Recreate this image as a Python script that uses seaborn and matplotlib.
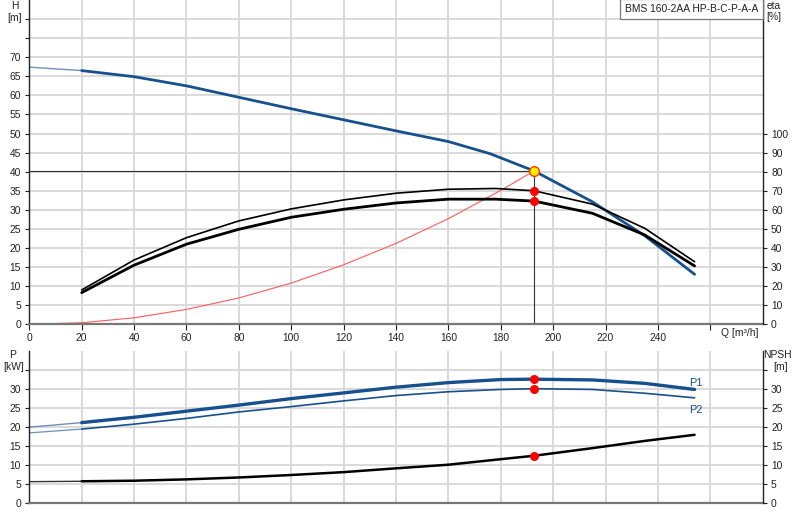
import matplotlib
matplotlib.use("Agg")
import matplotlib.pyplot as plt
import pandas as pd
import seaborn as sns

# ---------------- data ----------------
# Q-H pump curve
q_h = [0, 20, 40, 60, 80, 100, 120, 140, 160, 176, 192.7, 215, 235, 254]
h_vals = [67.4, 66.5, 64.9, 62.5, 59.5, 56.5, 53.6, 50.7, 47.9, 44.7, 40.2, 32.1, 23.2, 13.1]

# efficiency curves [%]
q_eta = [20, 40, 60, 80, 100, 120, 140, 160, 178, 192.7, 215, 235, 254]
eta_pump = [18.0, 33.7, 45.4, 54.2, 60.5, 65.2, 68.7, 70.8, 71.2, 70.0, 63.0, 50.3, 32.8]
eta_total = [16.6, 31.0, 42.0, 49.8, 56.1, 60.3, 63.6, 65.6, 65.6, 64.6, 58.2, 46.8, 30.6]

# system curve
q_sys = [0, 20, 40, 60, 80, 100, 120, 140, 160, 180, 192.7]
h_sys = [0, 0.4, 1.7, 3.9, 6.9, 10.8, 15.6, 21.2, 27.7, 35.1, 40.2]

# power / NPSH curves
q_p = [0, 20, 40, 60, 80, 100, 120, 140, 160, 180, 192.7, 215, 235, 254]
p1_vals = [19.9, 21.1, 22.5, 24.1, 25.7, 27.4, 28.9, 30.4, 31.6, 32.4, 32.5, 32.3, 31.4, 29.8]
p2_vals = [18.4, 19.4, 20.7, 22.2, 23.9, 25.3, 26.8, 28.2, 29.2, 29.8, 30.0, 29.8, 28.8, 27.6]
npsh_vals = [5.6, 5.7, 5.85, 6.2, 6.7, 7.35, 8.1, 9.1, 10.05, 11.5, 12.4, 14.4, 16.3, 17.9]

# duty point
duty_q = 192.7
duty_h = 40.2
duty_eta = [70.0, 64.6]
duty_p = [32.5, 30.0, 12.4]

q_ticks = [0, 20, 40, 60, 80, 100, 120, 140, 160, 180, 200, 220, 240, 260]
q_ticklabels = ["0", "20", "40", "60", "80", "100", "120", "140", "160", "180", "200", "220", "240", ""]
h_ticks = list(range(0, 85, 5))
h_ticklabels = [str(v) for v in range(0, 75, 5)] + ["", ""]
eta_ticks = list(range(0, 110, 10))
p_ticks = list(range(0, 40, 5))
p_ticklabels = [str(v) for v in range(0, 35, 5)] + [""]
model_name = "BMS 160-2AA HP-B-C-P-A-A"

# ---------------- style ----------------
sns.set_theme(style="white")
plt.rcParams['font.family'] = ['Liberation Sans', 'DejaVu Sans']
FS = 7.4
BLUE = "#17508e"
GRID = "#d9d9d9"

fig = plt.figure(figsize=(8, 5.2), dpi=100)
L, W = 29.3 / 800, (762.7 - 29.3) / 800
ax1 = fig.add_axes([L, (520 - 324.3) / 520, W, 324.3 / 520])
ax1r = ax1.twinx()
ax2 = fig.add_axes([L, (520 - 503) / 520, W, (503 - 350.6) / 520])
ax2r = ax2.twinx()

def style(ax, axr, yticks, ylabels, rticks, rlabels, ylim, rlim):
    ax.set_xlim(0, 280)
    ax.set_ylim(*ylim)
    axr.set_ylim(*rlim)
    ax.set_xticks(q_ticks)
    ax.set_yticks(yticks)
    ax.set_yticklabels(ylabels)
    axr.set_yticks(rticks)
    axr.set_yticklabels(rlabels)
    ax.grid(True, color=GRID, lw=1.4)
    ax.set_axisbelow(True)
    for a in (ax, axr):
        a.spines['top'].set_visible(False)
        a.set_xlabel("")
        a.set_ylabel("")
    ax.spines['left'].set_color("#222222")
    ax.spines['left'].set_linewidth(1.0)
    axr.spines['right'].set_color("#222222")
    axr.spines['right'].set_linewidth(1.0)
    axr.spines['left'].set_visible(False)
    axr.spines['bottom'].set_visible(False)
    ax.spines['right'].set_visible(False)
    ax.spines['bottom'].set_color("#777777")
    ax.spines['bottom'].set_linewidth(1.6)
    ax.tick_params(axis='y', left=True, length=3, width=0.8, pad=3, labelsize=FS, colors="#222222")
    axr.tick_params(axis='y', right=True, length=3, width=0.8, pad=3, labelsize=FS, colors="#222222")

# ---------------- top chart ----------------
df_h = pd.DataFrame({"Q": q_h, "H": h_vals})
sns.lineplot(data=df_h[df_h.Q <= 20], x="Q", y="H", ax=ax1, color="#6f8fb5", lw=1.0, sort=False)
sns.lineplot(data=df_h[df_h.Q >= 20], x="Q", y="H", ax=ax1, color=BLUE, lw=2.0, sort=False)

df_sys = pd.DataFrame({"Q": q_sys, "H": h_sys})
sns.lineplot(data=df_sys, x="Q", y="H", ax=ax1, color="#ff5a5a", lw=0.8, sort=False)

# duty point guide lines
ax1.plot([0, duty_q], [duty_h, duty_h], color="#333333", lw=0.8, zorder=2)
ax1.plot([duty_q, duty_q], [0, duty_h], color="#333333", lw=0.8, zorder=2)

df_eta = pd.DataFrame({"Q": q_eta, "pump": eta_pump, "total": eta_total})
sns.lineplot(data=df_eta, x="Q", y="pump", ax=ax1r, color="black", lw=1.2, sort=False)
sns.lineplot(data=df_eta, x="Q", y="total", ax=ax1r, color="black", lw=2.0, sort=False)
ax1r.plot([duty_q] * len(duty_eta), duty_eta, 'o', color="#ff0000", ms=5.5, mec="#ff0000", zorder=5, ls='none')
ax1r.plot([duty_q], [duty_h * 2], 'o', color="#ffee00", ms=7, mec="#ff3b00", mew=1.0, zorder=6)

style(ax1, ax1r, h_ticks, h_ticklabels, eta_ticks, [str(v) for v in eta_ticks], (0, 85), (0, 170))
ax1.set_xticklabels(q_ticklabels)
ax1.tick_params(axis='x', bottom=True, length=4, width=0.8, pad=2, labelsize=FS, colors="#222222")
ax1r.set_zorder(ax1.get_zorder() + 1)

# model name box
fig.text(691.5 / 800, 1 - 9 / 520, model_name, ha='center', va='center', fontsize=FS,
         color="#222222",
         bbox=dict(boxstyle="square,pad=0.45", fc="white", ec="#777777", lw=0.9))

fig.text(15 / 800, 1 - 6 / 520, "H", ha='center', va='center', fontsize=FS, color="#222222")
fig.text(15 / 800, 1 - 18 / 520, "[m]", ha='center', va='center', fontsize=FS, color="#222222")
fig.text(774 / 800, 1 - 6 / 520, "eta", ha='center', va='center', fontsize=FS, color="#222222")
fig.text(774 / 800, 1 - 17 / 520, "[%]", ha='center', va='center', fontsize=FS, color="#222222")
fig.text(740 / 800, 1 - 333.5 / 520, "Q [m³/h]", ha='center', va='center', fontsize=FS, color="#222222")

# ---------------- bottom chart ----------------
df_p = pd.DataFrame({"Q": q_p, "P1": p1_vals, "P2": p2_vals, "NPSH": npsh_vals})
lo = df_p[df_p.Q <= 20]
hi = df_p[df_p.Q >= 20]
sns.lineplot(data=lo, x="Q", y="P1", ax=ax2, color="#6f8fb5", lw=1.0, sort=False)
sns.lineplot(data=hi, x="Q", y="P1", ax=ax2, color=BLUE, lw=2.4, sort=False)
sns.lineplot(data=lo, x="Q", y="P2", ax=ax2, color="#6f8fb5", lw=0.9, sort=False)
sns.lineplot(data=hi, x="Q", y="P2", ax=ax2, color=BLUE, lw=1.2, sort=False)
sns.lineplot(data=lo, x="Q", y="NPSH", ax=ax2r, color="#333333", lw=1.0, sort=False)
sns.lineplot(data=hi, x="Q", y="NPSH", ax=ax2r, color="black", lw=1.8, sort=False)
ax2.plot([duty_q, duty_q], duty_p[:2], 'o', color="#ff0000", ms=5.5, mec="#ff0000", zorder=5, ls='none')
ax2r.plot([duty_q], duty_p[2:], 'o', color="#ff0000", ms=5.5, mec="#ff0000", zorder=5)

style(ax2, ax2r, p_ticks, p_ticklabels, p_ticks, p_ticklabels, (0, 40), (0, 40))
ax2.set_xticklabels([])
ax2.tick_params(axis='x', bottom=False, length=0)
ax2r.set_zorder(ax2.get_zorder() + 1)

ax2.text(q_p[-1] - 2, p1_vals[-1] + 1.8, "P1", color=BLUE, fontsize=FS + 0.5, ha='left', va='center')
ax2.text(q_p[-1] - 2, p2_vals[-1] - 3.2, "P2", color=BLUE, fontsize=FS + 0.5, ha='left', va='center')

fig.text(13 / 800, 1 - 355 / 520, "P", ha='center', va='center', fontsize=FS, color="#222222")
fig.text(14 / 800, 1 - 367 / 520, "[kW]", ha='center', va='center', fontsize=FS, color="#222222")
fig.text(777 / 800, 1 - 355 / 520, "NPSH", ha='center', va='center', fontsize=FS, color="#222222")
fig.text(780 / 800, 1 - 367 / 520, "[m]", ha='center', va='center', fontsize=FS, color="#222222")

fig.savefig("out.png", dpi=100, facecolor="white")
